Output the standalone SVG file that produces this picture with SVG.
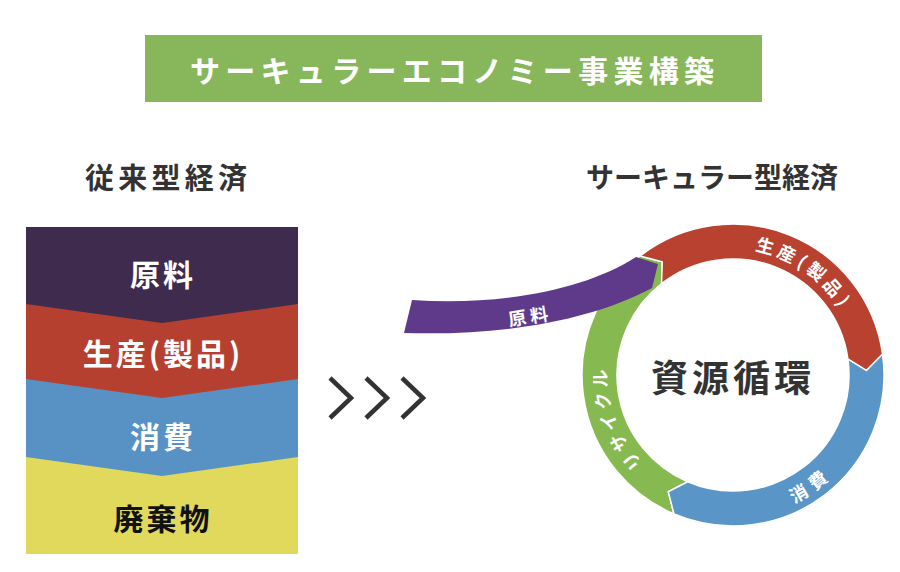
<svg xmlns="http://www.w3.org/2000/svg" width="900" height="572" viewBox="0 0 900 572">
<style>
text{font-family:"Noto Sans CJK JP","Noto Sans",sans-serif;font-weight:700;}
.w{fill:#fff;}
.d{fill:#333;}
.stk{font-size:30px;letter-spacing:3px;text-anchor:middle;dominant-baseline:central;}
.ring{font-size:18px;fill:#fff;dominant-baseline:central;text-anchor:middle;letter-spacing:5px;}
.seg{stroke:#fff;stroke-width:1.5;stroke-linejoin:miter;}
.chev{fill:none;stroke:#333;stroke-width:4.5;}
</style>
<defs>
<path id="arcRed" d="M 687.17 249.08 A 134 134 0 0 1 867 375"/>
<path id="arcBlue" d="M 733 509 A 134 134 0 0 0 858.92 420.83"/>
<path id="arcGreen" d="M 666 491.05 A 134 134 0 0 1 607.08 329.17"/>
</defs>
<rect width="900" height="572" fill="#fff"/>

<g id="title">
<rect x="145" y="35" width="617" height="67" fill="#87b75a"/>
<text x="452" y="69" class="w" font-size="30" text-anchor="middle" dominant-baseline="central" textLength="524" lengthAdjust="spacing">サーキュラーエコノミー事業構築</text>
</g>

<g id="heading-left">
<text x="166" y="176" class="d" font-size="29" text-anchor="middle" dominant-baseline="central" textLength="162" lengthAdjust="spacing">従来型経済</text>
</g>
<g id="heading-right">
<text x="712" y="176" class="d" font-size="28" text-anchor="middle" dominant-baseline="central" textLength="252" lengthAdjust="spacing">サーキュラー型経済</text>
</g>

<g id="linear-stack">
<g id="stack-waste">
<rect x="26" y="440" width="272" height="114" fill="#e1d95c"/>
<text x="163" y="517" class="stk" fill="#111">廃棄物</text>
</g>
<g id="stack-consume">
<polygon points="26,362 298,362 298,457 162,476 26,457" fill="#5892c5"/>
<text x="163" y="435" class="stk w">消費</text>
</g>
<g id="stack-produce">
<polygon points="26,290 298,290 298,379 162,398 26,379" fill="#b6402f"/>
<text x="163" y="352" class="stk w">生産(製品)</text>
</g>
<g id="stack-raw">
<polygon points="26,227 298,227 298,304 162,323 26,304" fill="#3e2b4e"/>
<text x="163" y="273" class="stk w">原料</text>
</g>
</g>

<g id="chevrons">
<polyline class="chev" points="330,378 351,398 330,418"/>
<polyline class="chev" points="366,378 387,398 366,418"/>
<polyline class="chev" points="402,378 423,398 402,418"/>
</g>

<g id="cycle">
<g id="seg-recycle">
<path class="seg" fill="#86ba50" d="M 674.0 514.0 A 151 151 0 0 1 640.03 256.01 L 662.26 261.79 L 661.58 283.59 A 116 116 0 0 0 687.68 481.78 L 668.28 491.76 Z"/>
<text class="ring"><textPath href="#arcGreen" startOffset="50%">リサイクル</textPath></text>
</g>
<g id="seg-consume">
<path class="seg" fill="#5a95c8" d="M 882.53 353.98 A 151 151 0 0 1 674.0 514.0 L 668.28 491.76 L 687.68 481.78 A 116 116 0 0 0 847.87 358.85 L 866.42 370.34 Z"/>
<text class="ring"><textPath href="#arcBlue" startOffset="50%">消費</textPath></text>
</g>
<g id="seg-produce">
<path class="seg" fill="#b8412f" d="M 640.03 256.01 A 151 151 0 0 1 882.53 353.98 L 866.42 370.34 L 847.87 358.85 A 116 116 0 0 0 661.58 283.59 L 662.26 261.79 Z"/>
<text class="ring"><textPath href="#arcRed" startOffset="50%">生産(製品)</textPath></text>
</g>
<g id="raw-input">
<path fill="#5f3a8a" d="M 404 333 L 412 300 C 500 306 585 290 636 257 L 658 264 L 652 288 C 592 320 505 336 404 333 Z"/>
<text x="530" y="315" class="w" font-size="18" letter-spacing="4" text-anchor="middle" dominant-baseline="central" transform="rotate(-9 530 315)">原料</text>
</g>
<g id="center-label">
<text x="733" y="376" class="d" font-size="37" letter-spacing="4" text-anchor="middle" dominant-baseline="central">資源循環</text>
</g>
</g>
</svg>
